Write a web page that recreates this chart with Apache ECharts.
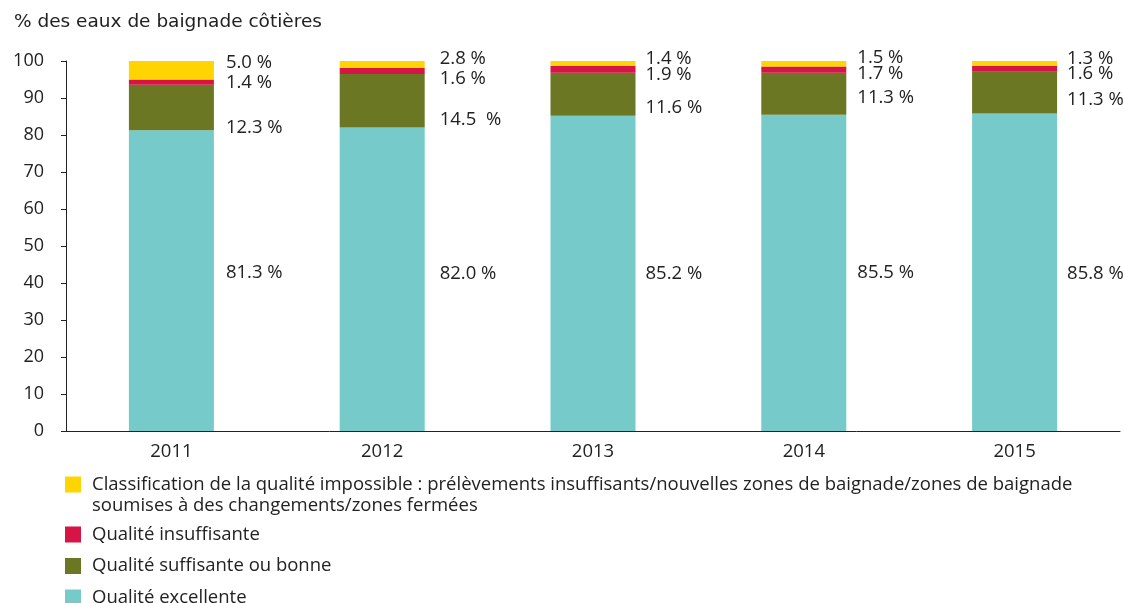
<!DOCTYPE html>
<html>
<head>
<meta charset="utf-8">
<script src="https://cdn.jsdelivr.net/npm/echarts@6/dist/echarts.min.js"></script>
<style>
  html, body { margin: 0; padding: 0; background: #fff; }
  #chart { width: 1124px; height: 603px; }
</style>
</head>
<body>
<div id="chart"></div>
<script>
const years = ['2011', '2012', '2013', '2014', '2015']
const excellent = [81.3, 82.0, 85.2, 85.5, 85.8]
const sufficient = [12.3, 14.5, 11.6, 11.3, 11.3]
const insufficient = [1.4, 1.6, 1.9, 1.7, 1.6]
const impossible = [5.0, 2.8, 1.4, 1.5, 1.3]

const names = {
  impossible: 'Classification de la qualité impossible : prélèvements insuffisants/nouvelles zones de baignade/zones de baignade\nsoumises à des changements/zones fermées',
  insufficient: 'Qualité insuffisante',
  sufficient: 'Qualité suffisante ou bonne',
  excellent: 'Qualité excellente'
}

// label placement next to the bars (pixels), as in the original figure
const labelDx = [12, 15, 10, 11, 10]
const labelDy = {
  excellent: [-8, -6, 0, 0, 1],
  sufficient: [20, 19, 13, 4, 7],
  insufficient: [1, 8, 5, 4, 5],
  impossible: [-8, -6, -5, -6, -5]
}

const font = '"Open Sans", "Noto Sans", sans-serif'
const ink = '#222'
const fs = 18.5

function makeSeries(key, values, color) {
  return {
    name: names[key],
    type: 'bar',
    stack: 'total',
    barWidth: 85,
    itemStyle: { color: color },
    label: {
      show: true,
      position: 'right',
      distance: 0,
      color: ink,
      fontSize: fs,
      fontFamily: font,
      formatter: p => p.value.toFixed(1) + (key === 'sufficient' && p.dataIndex === 1 ? '  %' : ' %')
    },
    data: values.map((v, i) => ({ value: v, label: { offset: [labelDx[i], labelDy[key][i]] } }))
  }
}

const legendBase = {
  orient: 'vertical',
  left: 65,
  height: 120,
  padding: 0,
  icon: 'rect',
  itemWidth: 16,
  itemHeight: 16,
  itemGap: 10.5,
  selectedMode: false,
  textStyle: { fontSize: fs, color: ink, fontFamily: font, lineHeight: 21, padding: [0, 0, 0, 6] }
}

const chart = echarts.init(document.getElementById('chart'))
chart.setOption({
  animation: false,
  title: {
    text: '% des eaux de baignade côtières',
    left: 14,
    top: 11,
    padding: 0,
    textStyle: { fontSize: 18.5, fontWeight: 'normal', color: ink, fontFamily: '"DejaVu Sans", Verdana, sans-serif', lineHeight: 22 }
  },
  legend: [
    // first entry spans two lines: a leading blank line keeps line one level with the swatch
    Object.assign({}, legendBase, {
      top: 453,
      data: [names.impossible],
      formatter: n => '\n' + n
    }),
    Object.assign({}, legendBase, {
      top: 524,
      data: [names.insufficient, names.sufficient, names.excellent]
    })
  ],
  grid: { left: 66, right: 4, top: 61, bottom: 172, outerBoundsMode: 'none' },
  xAxis: {
    type: 'category',
    data: years,
    axisLine: { lineStyle: { color: ink, width: 1 } },
    axisTick: { length: 5, lineStyle: { color: ink } },
    axisLabel: { fontSize: fs, color: ink, fontFamily: font, margin: 11 }
  },
  yAxis: {
    type: 'value',
    min: 0,
    max: 100,
    interval: 10,
    splitLine: { show: false },
    axisLine: { show: true, lineStyle: { color: ink, width: 1 } },
    axisTick: { show: true, length: 5, lineStyle: { color: ink } },
    axisLabel: { fontSize: 18, color: ink, fontFamily: font, margin: 22 }
  },
  series: [
    makeSeries('excellent', excellent, '#76CBCA'),
    makeSeries('sufficient', sufficient, '#6B7723'),
    makeSeries('insufficient', insufficient, '#D41545'),
    makeSeries('impossible', impossible, '#FFD400')
  ]
})
</script>
</body>
</html>
